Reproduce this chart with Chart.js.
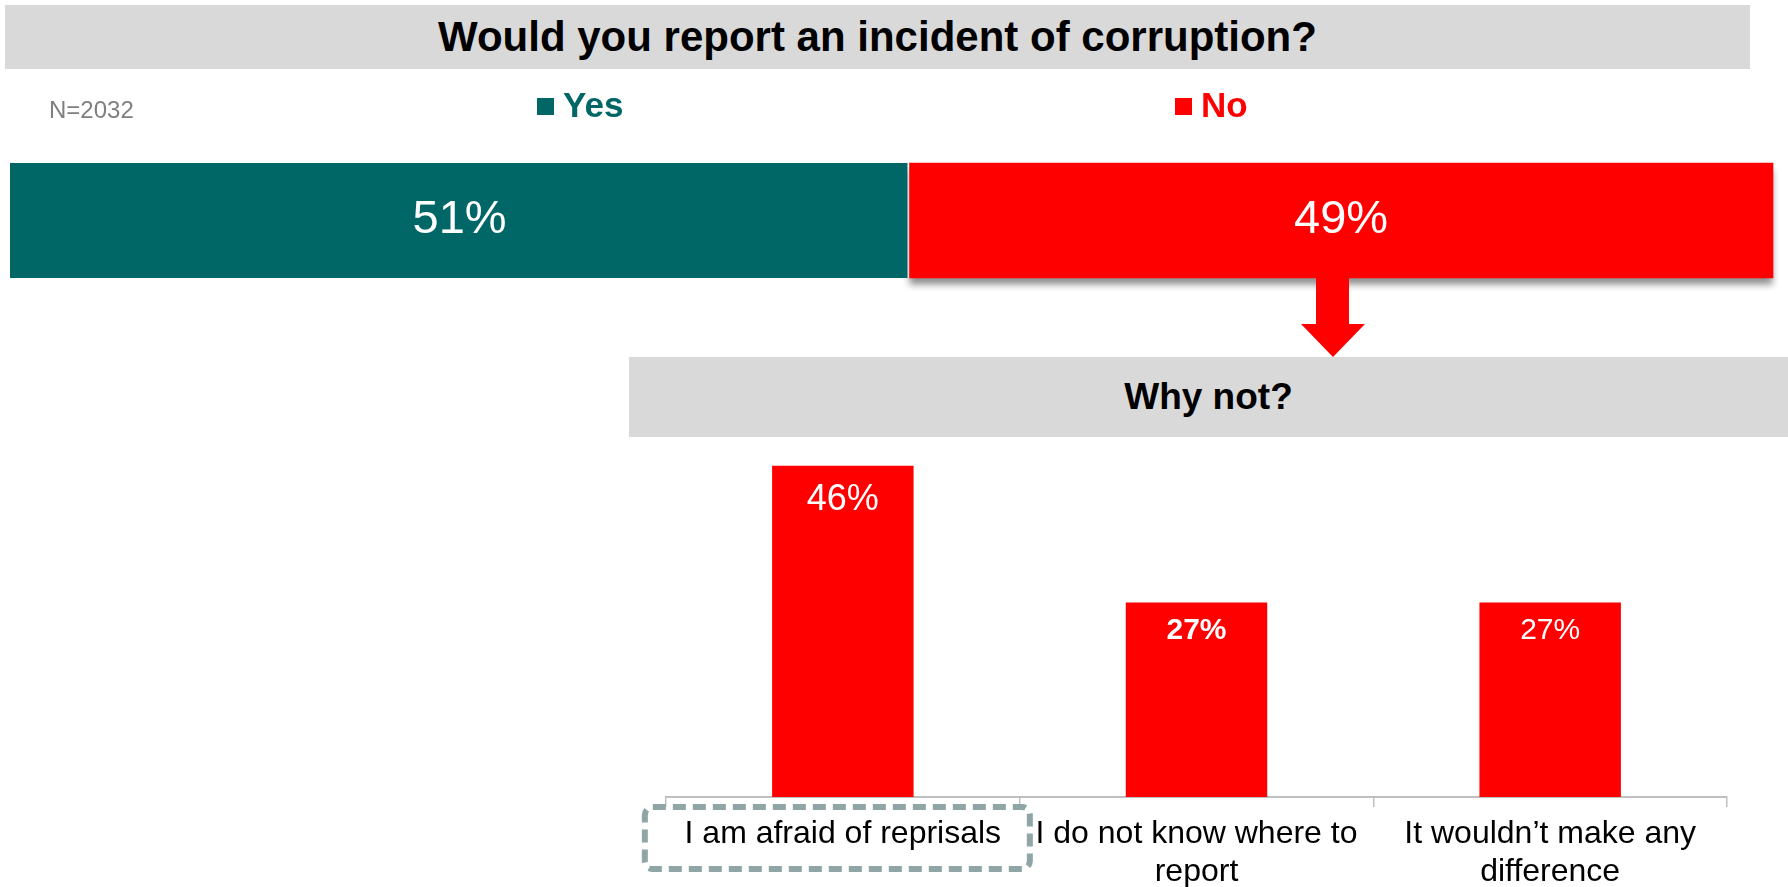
<!DOCTYPE html>
<html>
<head>
<meta charset="utf-8">
<script src="https://cdn.jsdelivr.net/npm/chart.js@4.4.0/dist/chart.umd.min.js"></script>
<style>
  html, body { margin: 0; padding: 0; background: #fff; }
  #page { position: relative; width: 1788px; height: 887px; overflow: hidden; font-family: 'Liberation Sans', Arial, sans-serif; }
  .band { position: absolute; background: #d9d9d9; display: flex; align-items: center; justify-content: center; font-weight: bold; color: #000; }
  #title { left: 5px; top: 5px; width: 1745px; height: 64px; font-size: 42px; }
  #subtitle { left: 629px; top: 357px; width: 1159px; height: 80px; font-size: 37px; }
  #topWrap { position: absolute; left: 0; top: 0; width: 1788px; height: 360px; }
  #bottomWrap { position: absolute; left: 600px; top: 420px; width: 1188px; height: 467px; }
</style>
</head>
<body>
<div id="page">
  <div class="band" id="title">Would you report an incident of corruption?</div>
  <div class="band" id="subtitle">Why not?</div>
  <div id="topWrap"><canvas id="answer-chart"></canvas></div>
  <div id="bottomWrap"><canvas id="reason-chart"></canvas></div>
</div>
<script>
const FONT = "'Liberation Sans', Arial, sans-serif";

// Would you report? (single stacked bar)
const answerLabels = ['Yes', 'No'];
const answerValues = [51, 49];
const answerColors = ['#006766', '#ff0000'];
const sampleNote = 'N=2032';

// Why not?
const reasonLabels = [
  'I am afraid of reprisals',
  ['I do not know where to', 'report'],
  ['It wouldn\u2019t make any', 'difference'],
];
const reasonValues = [46, 27, 27];

// label styling for the "why not" bars
const reasonFontSizes = [36, 30, 30];
const reasonFontWeights = ['normal', 'bold', 'normal'];

const answerDecor = {
  id: 'answerDecor',
  beforeDatasetsDraw(chart) {
    const ctx = chart.ctx;
    ctx.save();
    ctx.shadowColor = 'rgba(0,0,0,0.45)';
    ctx.shadowBlur = 7;
    ctx.shadowOffsetY = 7;
  },
  afterDatasetsDraw(chart) {
    const ctx = chart.ctx;
    ctx.restore();

    ctx.save();
    ctx.fillStyle = '#fff';
    ctx.font = '47px ' + FONT;
    ctx.textAlign = 'center';
    ctx.textBaseline = 'middle';
    chart.data.datasets.forEach((ds, i) => {
      const bar = chart.getDatasetMeta(i).data[0];
      const c = bar.getCenterPoint();
      ctx.fillText(ds.data[0] + '%', c.x, c.y);
    });
    ctx.restore();
  },
  afterDraw(chart) {
    const ctx = chart.ctx;
    const area = chart.chartArea;
    ctx.save();

    // sample size
    ctx.fillStyle = '#7f7f7f';
    ctx.font = '24px ' + FONT;
    ctx.textAlign = 'left';
    ctx.textBaseline = 'alphabetic';
    ctx.fillText(sampleNote, 49, 118);

    // legend
    const legendX = [537, 1175];
    ctx.font = 'bold 35px ' + FONT;
    answerLabels.forEach((label, i) => {
      ctx.fillStyle = answerColors[i];
      ctx.fillRect(legendX[i], 98, 17, 17);
      ctx.fillText(label, legendX[i] + 26, 117);
    });

    // arrow down to "Why not?"
    const ax = 1333;
    ctx.fillStyle = '#ff0000';
    ctx.beginPath();
    ctx.moveTo(ax - 17, area.bottom);
    ctx.lineTo(ax + 16, area.bottom);
    ctx.lineTo(ax + 16, 324);
    ctx.lineTo(ax + 32, 324);
    ctx.lineTo(ax, 357);
    ctx.lineTo(ax - 32, 324);
    ctx.lineTo(ax - 17, 324);
    ctx.closePath();
    ctx.fill();
    ctx.restore();
  }
};

new Chart(document.getElementById('answer-chart'), {
  type: 'bar',
  data: {
    labels: [''],
    datasets: answerLabels.map((label, i) => ({
      label: label,
      data: [answerValues[i]],
      backgroundColor: answerColors[i],
      borderColor: '#fff',
      borderWidth: i === 0 ? { right: 2 } : 0,
      barPercentage: 1,
      categoryPercentage: 1,
      clip: false,
    })),
  },
  options: {
    indexAxis: 'y',
    responsive: true,
    maintainAspectRatio: false,
    animation: false,
    layout: { padding: { left: 10, right: 15, top: 163, bottom: 82 } },
    plugins: { legend: { display: false }, tooltip: { enabled: false } },
    scales: {
      x: { stacked: true, min: 0, max: 100, display: false },
      y: { stacked: true, display: false },
    },
  },
  plugins: [answerDecor],
});

const reasonDecor = {
  id: 'reasonDecor',
  afterDatasetsDraw(chart) {
    const ctx = chart.ctx;
    ctx.save();
    ctx.fillStyle = '#fff';
    ctx.textAlign = 'center';
    ctx.textBaseline = 'middle';
    chart.getDatasetMeta(0).data.forEach((bar, i) => {
      const size = reasonFontSizes[i];
      ctx.font = reasonFontWeights[i] + ' ' + size + 'px ' + FONT;
      ctx.fillText(reasonValues[i] + '%', bar.x, bar.y + size * 0.95);
    });
    ctx.restore();
  },
  afterDraw(chart) {
    // dashed highlight round the first answer
    const ctx = chart.ctx;
    const xs = chart.scales.x;
    const cx = xs.getPixelForTick(0);
    ctx.save();
    ctx.strokeStyle = '#8fa5a6';
    ctx.lineWidth = 6;
    ctx.setLineDash([13, 7]);
    ctx.beginPath();
    ctx.roundRect(cx - 198, xs.top + 10, 385, 62, 8);
    ctx.stroke();
    ctx.restore();
  }
};

new Chart(document.getElementById('reason-chart'), {
  type: 'bar',
  data: {
    labels: reasonLabels,
    datasets: [{
      data: reasonValues,
      backgroundColor: '#ff0000',
      barPercentage: 0.4,
      categoryPercentage: 1,
    }],
  },
  options: {
    responsive: true,
    maintainAspectRatio: false,
    animation: false,
    layout: { padding: { left: 66, right: 61, top: 17, bottom: 0 } },
    plugins: { legend: { display: false }, tooltip: { enabled: false } },
    scales: {
      y: { display: false, min: 0, max: 50 },
      x: {
        grid: { drawOnChartArea: false, drawTicks: true, tickLength: 10, color: '#bfbfbf', lineWidth: 1.5, offset: true },
        border: { color: '#bfbfbf', width: 2 },
        ticks: { color: '#000', font: { family: FONT, size: 32 }, padding: 8, maxRotation: 0, minRotation: 0, autoSkip: false },
        afterFit(scale) { scale.height = 90; },
      },
    },
  },
  plugins: [reasonDecor],
});
</script>
</body>
</html>
